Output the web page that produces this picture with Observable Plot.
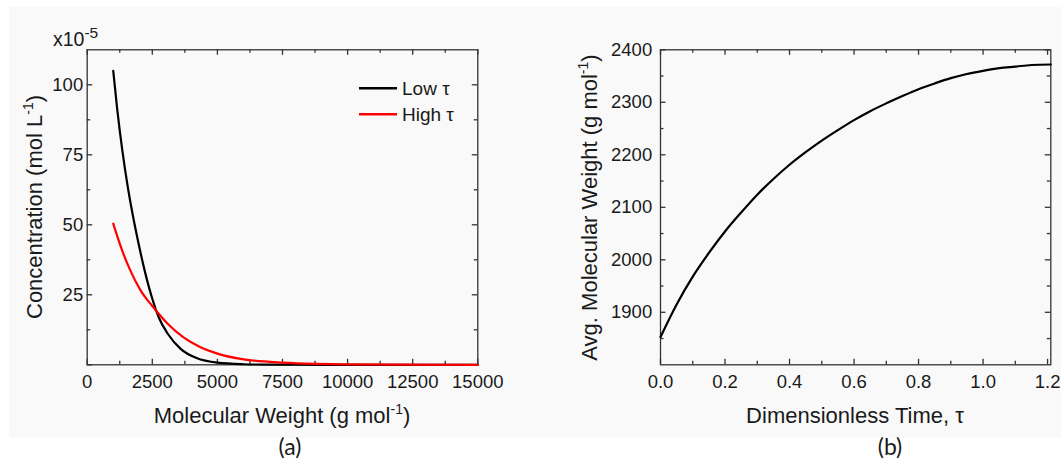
<!DOCTYPE html>
<html>
<head>
<meta charset="utf-8">
<script src="https://cdn.jsdelivr.net/npm/d3@7"></script>
<script src="https://cdn.jsdelivr.net/npm/@observablehq/plot@0.6"></script>
<style>
  html, body { margin: 0; padding: 0; background: #ffffff; width: 1061px; height: 459px; overflow: hidden; }
  #bg { position: absolute; left: 9px; top: 7px; width: 1052px; height: 431px; background: #f9f9f9; }
  #panelA, #panelB { position: absolute; top: 0; }
  #panelA { left: 0; }
  #panelB { left: 530px; }
</style>
</head>
<body>
<div id="bg"></div>
<div id="panelA"></div>
<div id="panelB"></div>
<script>
// ---------- Data: panel (a) ----------
const lowMW   = [1000, 1150, 1350, 1550, 1750, 1950, 2200, 2500, 2750, 3100, 3600, 4200, 5000, 6000, 7000, 8000, 10000, 15000];
const lowConc = [105, 91.5, 76.5, 64, 53.5, 44.3, 33.9, 23.6, 16.9, 11.0, 5.6, 2.4, 0.75, 0.2, 0.05, 0.01, 0, 0];
const highMW   = [1000, 1300, 1650, 2050, 2500, 3100, 3700, 4350, 5000, 5900, 6300, 7500, 8800, 10000, 12000, 15000];
const highConc = [50.4, 41.9, 33.8, 26.6, 21.0, 14.6, 9.8, 6.3, 4.0, 2.1, 1.6, 0.8, 0.35, 0.15, 0.04, 0];
const seriesNames = ["Low \u03c4", "High \u03c4"];
const xTicksA = [0, 2500, 5000, 7500, 10000, 12500, 15000];
const xMinorA = [1250, 3750, 6250, 8750, 11250, 13750];
const yTicksA = [25, 50, 75, 100];
const yMinorA = [12.5, 37.5, 62.5, 87.5];

// ---------- Data: panel (b) ----------
const tau   = [0, 0.05, 0.1, 0.15, 0.2, 0.25, 0.3, 0.35, 0.4, 0.45, 0.5, 0.55, 0.6, 0.65, 0.7, 0.75, 0.8, 0.85, 0.9, 0.95, 1.0, 1.05, 1.1, 1.15, 1.21];
const avgMW = [1853, 1915, 1968, 2013, 2054, 2090, 2124, 2154, 2181, 2205, 2227, 2247, 2266, 2283, 2298, 2312, 2325, 2336, 2346, 2354, 2360, 2365, 2368, 2371, 2372];
const xTicksB = [0, 0.2, 0.4, 0.6, 0.8, 1.0, 1.2];
const xMinorB = [0.1, 0.3, 0.5, 0.7, 0.9, 1.1];
const yTicksB = [1900, 2000, 2100, 2200, 2300, 2400];
const yMinorB = [1850, 1950, 2050, 2150, 2250, 2350];

const lowRows  = lowMW.map((m, i) => ({mw: m, c: lowConc[i]}));
const highRows = highMW.map((m, i) => ({mw: m, c: highConc[i]}));
const bRows    = tau.map((t, i) => ({t, m: avgMW[i]}));

const FONT = "'Liberation Sans', Arial, Helvetica, sans-serif";
const INK = "#1a1a1a";
const FRAME = "#333333";
const H = 459, MT = 49.3, MB = 94.7;
const plotH = H - MT - MB;

function innerTicks(xs, ys, xsMinor, ysMinor, plotW) {
  const s = {stroke: FRAME, strokeWidth: 1.3};
  const big = 5.5, small = 3.5;
  return [
    Plot.tickX(xs, {x: d => d, insetTop: plotH - big, ...s}),
    Plot.tickX(xs, {x: d => d, insetBottom: plotH - big, ...s}),
    Plot.tickX(xsMinor, {x: d => d, insetTop: plotH - small, ...s}),
    Plot.tickX(xsMinor, {x: d => d, insetBottom: plotH - small, ...s}),
    Plot.tickY(ys, {y: d => d, insetRight: plotW - big, ...s}),
    Plot.tickY(ys, {y: d => d, insetLeft: plotW - big, ...s}),
    Plot.tickY(ysMinor, {y: d => d, insetRight: plotW - small, ...s}),
    Plot.tickY(ysMinor, {y: d => d, insetLeft: plotW - small, ...s})
  ];
}

function addText(svg, attrs, parts) {
  const t = svg.append("text").attr("fill", INK).attr("font-family", FONT).attr("text-anchor", "start");
  Object.entries(attrs).forEach(([k, v]) => t.attr(k, v));
  parts.forEach(p => {
    const ts = t.append("tspan").text(p.text);
    if (p.dy) ts.attr("dy", p.dy);
    if (p.size) ts.attr("font-size", p.size);
  });
  return t;
}

// ---------- Panel (a) ----------
const WA = 530, MLA = 86.7, MRA = 52.7;
const plotWA = WA - MLA - MRA;
const chartA = Plot.plot({
  width: WA, height: H,
  marginLeft: MLA, marginRight: MRA, marginTop: MT, marginBottom: MB,
  x: {domain: [0, 15000]},
  y: {domain: [0, 112.5]},
  style: {background: "transparent", fontFamily: FONT, color: INK, overflow: "visible"},
  marks: [
    Plot.frame({stroke: FRAME, strokeWidth: 1.3}),
    ...innerTicks(xTicksA, [0, ...yTicksA], xMinorA, yMinorA, plotWA),
    Plot.axisX(xTicksA, {tickSize: 0, tickPadding: 10.5, fontSize: 18.5, tickFormat: d3.format("d"), label: null}),
    Plot.axisY(yTicksA, {tickSize: 0, tickPadding: 4, fontSize: 18.5, tickFormat: d3.format("d"), label: null}),
    Plot.line(lowRows, {x: "mw", y: "c", stroke: "#000000", strokeWidth: 2.2, curve: "monotone-x"}),
    Plot.line(highRows, {x: "mw", y: "c", stroke: "#ff0000", strokeWidth: 2.2, curve: "monotone-x"})
  ]
});
document.getElementById("panelA").appendChild(chartA);
const sA = d3.select(chartA);
addText(sA, {x: 282, y: 422.5, "text-anchor": "middle", "font-size": 22},
  [{text: "Molecular Weight (g mol"}, {text: "-1", dy: -9, size: 14}, {text: ")", dy: 9}]);
addText(sA, {transform: "translate(41.5,207) rotate(-90)", "text-anchor": "middle", "font-size": 22},
  [{text: "Concentration (mol L"}, {text: "-1", dy: -9, size: 14}, {text: ")", dy: 9}]);
addText(sA, {x: 53, y: 45.5, "font-size": 19.5},
  [{text: "x10"}, {text: "-5", dy: -8, size: 15.5}]);
// legend
const legendColors = ["#000000", "#ff0000"];
seriesNames.forEach((name, i) => {
  const y = 88.3 + i * 26;
  sA.append("line").attr("x1", 359).attr("x2", 397).attr("y1", y).attr("y2", y)
    .attr("stroke", legendColors[i]).attr("stroke-width", 2.6);
  addText(sA, {x: 402, y: y + 6.5, "font-size": 19}, [{text: name}]);
});
addText(sA, {x: 290, y: 455, "text-anchor": "middle", "font-size": 23, "font-family": "Lato, 'Open Sans', sans-serif"}, [{text: "(a)"}]);

// ---------- Panel (b) ----------
const WB = 531, MLB = 130, MRB = 10.7;
const plotWB = WB - MLB - MRB;
const chartB = Plot.plot({
  width: WB, height: H,
  marginLeft: MLB, marginRight: MRB, marginTop: MT, marginBottom: MB,
  x: {domain: [0, 1.21]},
  y: {domain: [1800, 2400]},
  style: {background: "transparent", fontFamily: FONT, color: INK, overflow: "visible"},
  marks: [
    Plot.frame({stroke: FRAME, strokeWidth: 1.3}),
    ...innerTicks(xTicksB, yTicksB, xMinorB, yMinorB, plotWB),
    Plot.axisX(xTicksB, {tickSize: 0, tickPadding: 10.5, fontSize: 18.5, tickFormat: d3.format(".1f"), label: null}),
    Plot.axisY(yTicksB, {tickSize: 0, tickPadding: 8.3, fontSize: 18.5, tickFormat: d3.format("d"), label: null}),
    Plot.line(bRows, {x: "t", y: "m", stroke: "#000000", strokeWidth: 2.2, curve: "monotone-x"})
  ]
});
document.getElementById("panelB").appendChild(chartB);
const sB = d3.select(chartB);
addText(sB, {x: 325, y: 423, "text-anchor": "middle", "font-size": 22},
  [{text: "Dimensionless Time, \u03c4"}]);
addText(sB, {transform: "translate(67,207.5) rotate(-90)", "text-anchor": "middle", "font-size": 22},
  [{text: "Avg. Molecular Weight (g mol"}, {text: "-1", dy: -9, size: 14}, {text: ")", dy: 9}]);
addText(sB, {x: 360, y: 455, "text-anchor": "middle", "font-size": 23, "font-family": "Lato, 'Open Sans', sans-serif"}, [{text: "(b)"}]);
</script>
</body>
</html>
